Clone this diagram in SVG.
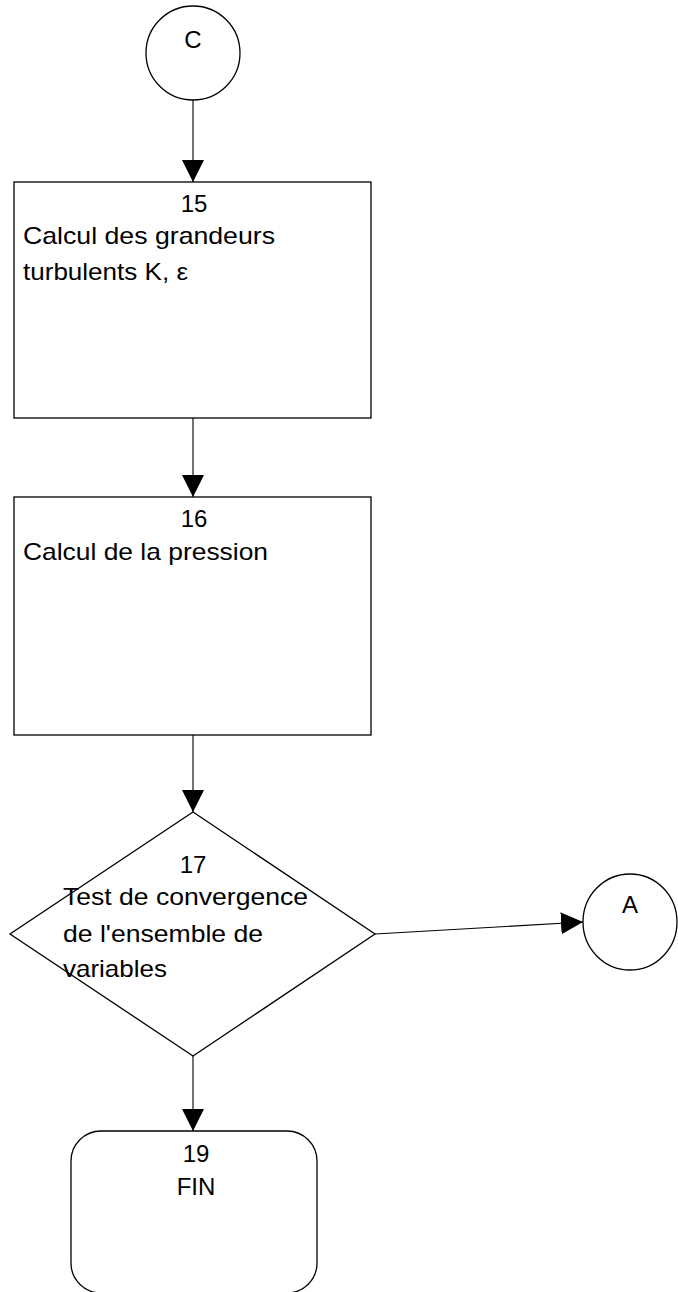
<svg xmlns="http://www.w3.org/2000/svg" width="678" height="1292" viewBox="0 0 678 1292">
<style>
.shape{fill:#fff;stroke:#000;stroke-width:1.3}
.conn{fill:none;stroke:#000;stroke-width:1.1}
.t{font-family:"Liberation Sans",Arial,sans-serif;font-size:24px;fill:#000}
.c{text-anchor:middle}
</style>
<defs>
<marker id="arr" markerUnits="userSpaceOnUse" markerWidth="22" markerHeight="22" refX="20" refY="10" orient="auto" viewBox="0 0 20 20">
<path d="M0,0 L20,10 L0,20 z" fill="#000"/>
</marker>
</defs>
<g id="connectors">
<line class="conn" x1="193" y1="100" x2="193" y2="182" marker-end="url(#arr)"/>
<line class="conn" x1="193" y1="418" x2="193" y2="497" marker-end="url(#arr)"/>
<line class="conn" x1="193" y1="735" x2="193" y2="812" marker-end="url(#arr)"/>
<line class="conn" x1="375" y1="934" x2="583" y2="922" marker-end="url(#arr)"/>
<line class="conn" x1="193" y1="1056" x2="193" y2="1131" marker-end="url(#arr)"/>
</g>
<g id="nodeC">
<circle class="shape" cx="193" cy="53" r="47"/>
<text class="t c" x="193" y="48">C</text>
</g>
<g id="node15">
<rect class="shape" x="14" y="182" width="357" height="236"/>
<text class="t c" x="194" y="212">15</text>
<text class="t" x="23" y="244" textLength="252" lengthAdjust="spacingAndGlyphs">Calcul des grandeurs</text>
<text class="t" x="23" y="280" textLength="165" lengthAdjust="spacingAndGlyphs">turbulents K, ε</text>
</g>
<g id="node16">
<rect class="shape" x="14" y="497" width="357" height="238"/>
<text class="t c" x="194" y="527">16</text>
<text class="t" x="23" y="560" textLength="245" lengthAdjust="spacingAndGlyphs">Calcul de la pression</text>
</g>
<g id="node17">
<polygon class="shape" points="193,812 375,934 193,1056 10,934"/>
<text class="t c" x="193" y="873">17</text>
<text class="t" x="63" y="905" textLength="245" lengthAdjust="spacingAndGlyphs">Test de convergence</text>
<text class="t" x="63" y="942" textLength="200" lengthAdjust="spacingAndGlyphs">de l'ensemble de</text>
<text class="t" x="63" y="977" textLength="104" lengthAdjust="spacingAndGlyphs">variables</text>
</g>
<g id="nodeA">
<ellipse class="shape" cx="630" cy="922" rx="47" ry="48"/>
<text class="t c" x="630" y="913">A</text>
</g>
<g id="node19">
<rect class="shape" x="71" y="1131" width="246" height="162" rx="30" ry="30"/>
<text class="t c" x="196" y="1162">19</text>
<text class="t c" x="196" y="1195">FIN</text>
</g>
</svg>
